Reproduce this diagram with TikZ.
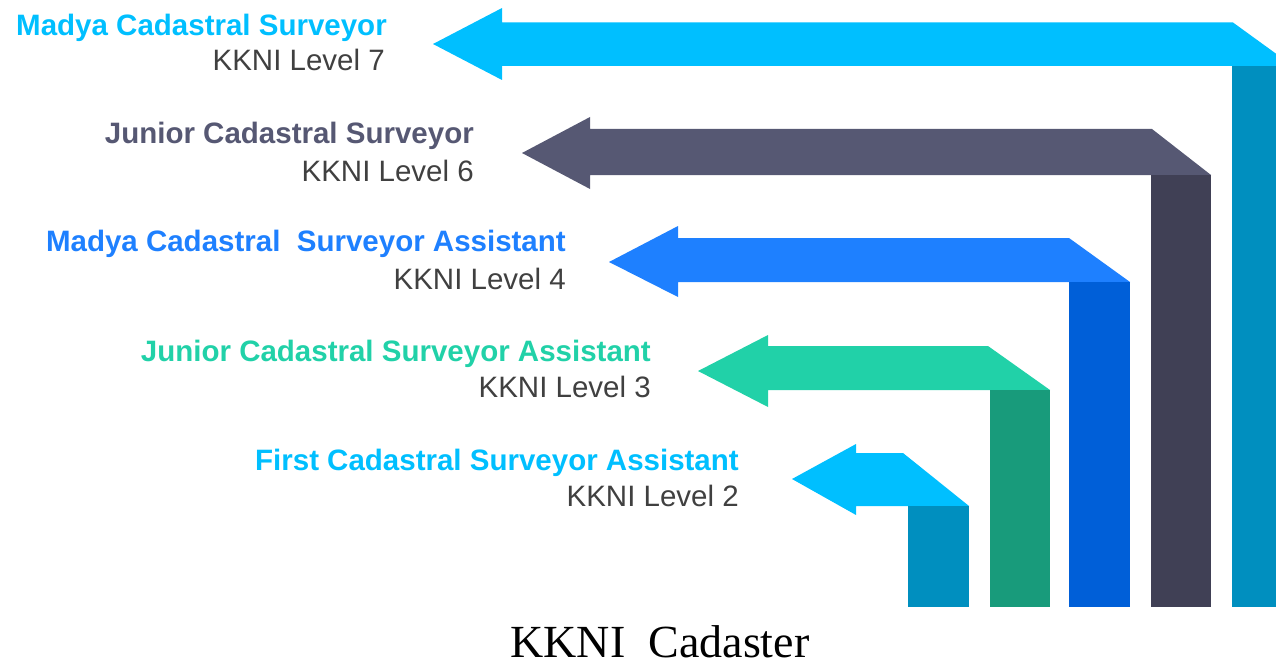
\documentclass[tikz,border=0pt]{standalone}
\usepackage{fontspec}
\setmainfont{Liberation Sans}
\newfontfamily\capfont{Liberation Serif}
\definecolor{skyL}{HTML}{00BFFF}
\definecolor{skyD}{HTML}{008FBF}
\definecolor{slateL}{HTML}{565873}
\definecolor{slateD}{HTML}{404055}
\definecolor{blueL}{HTML}{1E80FF}
\definecolor{blueD}{HTML}{005FD8}
\definecolor{greenL}{HTML}{21D1A8}
\definecolor{greenD}{HTML}{189B7B}
\definecolor{subgray}{HTML}{404040}
\tikzset{
  titletxt/.style={anchor=base east, inner sep=0pt, font=\fontsize{29.5}{32}\selectfont\bfseries},
  subtxt/.style={anchor=base east, inner sep=0pt, text=subgray, font=\fontsize{29.5}{32}\selectfont},
}
% #1 tip x, #2 centre y, #3 head back x, #4 head top, #5 head bottom,
% #6 shaft top, #7 shaft bottom, #8 bevel start x, #9 bar left ; bar right and colours via macros
\newcommand\barright{0}
\newcommand\drawstep[9]{%
  \fill[\lightcol] (#1,#2) -- (#3,#4) -- (#3,#6) -- (#8,#6) -- (\barright,#7) -- (#3,#7) -- (#3,#5) -- cycle;
  \fill[\darkcol] (#9,#7) rectangle (\barright,607);
}
\begin{document}
\begin{tikzpicture}[x=1pt,y=-1pt]
\useasboundingbox (0,0) rectangle (1276,666);
\clip (0,0) rectangle (1276,666);
% arrow 1
\def\lightcol{skyL}\def\darkcol{skyD}\renewcommand\barright{1293}
\drawstep{433}{44}{502}{8}{80}{22.5}{66}{1233}{1232}
% arrow 2
\def\lightcol{slateL}\def\darkcol{slateD}\renewcommand\barright{1211}
\drawstep{522}{153}{590}{117}{189}{129}{175}{1152}{1151}
% arrow 4
\def\lightcol{blueL}\def\darkcol{blueD}\renewcommand\barright{1130}
\drawstep{609}{262}{678}{226}{297}{238}{282}{1069}{1069}
% arrow 3
\def\lightcol{greenL}\def\darkcol{greenD}\renewcommand\barright{1050}
\drawstep{698}{371}{768}{335}{407}{346}{390}{988}{990}
% arrow 5
\def\lightcol{skyL}\def\darkcol{skyD}\renewcommand\barright{969}
\drawstep{792}{479}{856}{444}{515}{453}{506}{903}{908}
% texts
\node[titletxt, text=skyL] (t7) at (387,36) {Madya Cadastral Surveyor};
\node[subtxt] (s7) at (385,71) {KKNI Level 7};
\node[titletxt, text=slateL] (t6) at (474,143) {Junior Cadastral Surveyor};
\node[subtxt] (s6) at (474,181) {KKNI Level 6};
\node[titletxt, text=blueL] (t4) at (566,251) {Madya Cadastral\ \ Surveyor Assistant};
\node[subtxt] (s4) at (566,289) {KKNI Level 4};
\node[titletxt, text=greenL] (t3) at (651,361) {Junior Cadastral Surveyor Assistant};
\node[subtxt] (s3) at (651,397) {KKNI Level 3};
\node[titletxt, text=skyL] (t2) at (739,470) {First Cadastral Surveyor Assistant};
\node[subtxt] (s2) at (739,506) {KKNI Level 2};
\node[anchor=base, inner sep=0pt, font=\capfont\fontsize{46}{48}\selectfont] (cap) at (660,657) {KKNI\ \ Cadaster};
\end{tikzpicture}
\end{document}
